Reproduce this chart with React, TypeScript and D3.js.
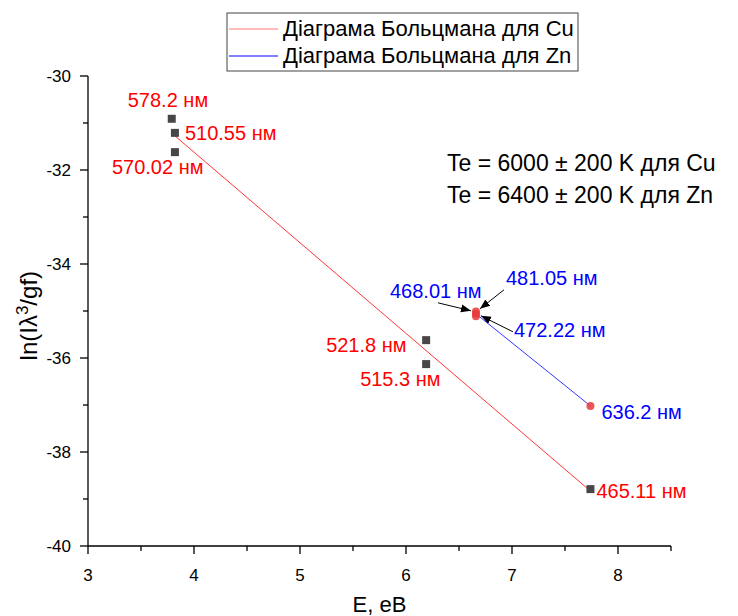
import React from "react";
import * as d3 from "d3";

// Cu lines (nm), upper level energy (eV), ln(I*lambda^3/gf)
const cuLines = ["578.2", "510.55", "570.02", "521.8", "515.3", "465.11"];
const cuEnergy = [3.79, 3.82, 3.82, 6.19, 6.19, 7.74];
const cuLn = [-30.91, -31.21, -31.62, -35.62, -36.13, -38.79];

// Zn lines
const znLines = ["468.01", "481.05", "472.22", "636.2"];
const znEnergy = [6.66, 6.66, 6.66, 7.74];
const znLn = [-35.01, -35.06, -35.11, -37.02];

const xTicks = [3, 4, 5, 6, 7, 8];
const yTicks = [-30, -32, -34, -36, -38, -40];
const legendItems = ["Діаграма Больцмана для Cu", "Діаграма Больцмана для Zn"];
const teLines = ["Te = 6000 ± 200 K для Cu", "Te = 6400 ± 200 K для Zn"];

// label placement (px from the point: left, baseline)
const cuLabelOffset = [[-44, -12], [10, 7], [-63, 22], [-100, 12], [-66, 22], [6, 9]];
const znLabelOffset = [[-86, -13], [30, -29], [38, 21], [11, 13]];
// arrows for the crowded Zn points: [tailX, tailY, tipX, tipY]
const znArrows = [[-38, -11, -5, -3], [28, -24, 4, -5], [37, 18, 5, 2], null];

const W = 738;
const H = 616;
const margin = { left: 88, top: 76, right: 67, bottom: 70 };
const font = "Arial, 'Liberation Sans', sans-serif";

function fit(xs: number[], ys: number[]) {
  const mx = d3.mean(xs)!;
  const my = d3.mean(ys)!;
  let sxy = 0;
  let sxx = 0;
  xs.forEach((x, i) => {
    sxy += (x - mx) * (ys[i] - my);
    sxx += (x - mx) * (x - mx);
  });
  const b = sxy / sxx;
  const a = my - b * mx;
  const [x0, x1] = d3.extent(xs) as [number, number];
  return [
    [x0, a + b * x0],
    [x1, a + b * x1],
  ];
}

export default function App() {
  const x = d3.scaleLinear().domain([3, 8.5]).range([margin.left, W - margin.right]);
  const y = d3.scaleLinear().domain([-40, -30]).range([H - margin.bottom, margin.top]);
  const line = d3
    .line<number[]>()
    .x((d) => x(d[0]))
    .y((d) => y(d[1]));

  const cuFit = fit(cuEnergy, cuLn);
  const znFit = fit(znEnergy, znLn);

  const xMinor = d3.range(3.5, 8.51, 1);
  const yMinor = d3.range(-39, -30, 2);
  const axisY = y(-40);
  const axisX = x(3);

  return (
    <svg
      width={W}
      height={H}
      style={{ position: "absolute", left: 0, top: 0, background: "#fff" }}
      fontFamily={font}
    >
      <defs>
        <marker id="arr" viewBox="0 0 10 10" refX="10" refY="5" markerWidth="10" markerHeight="10" orient="auto" markerUnits="userSpaceOnUse">
          <path d="M0,1 L10,5 L0,9 z" fill="#000" />
        </marker>
      </defs>

      {/* axes */}
      <g stroke="#000" strokeWidth={1.3}>
        <line x1={axisX} x2={x(8.5)} y1={axisY} y2={axisY} />
        <line x1={axisX} x2={axisX} y1={y(-30)} y2={axisY} />
        {xTicks.map((t) => (
          <line key={t} x1={x(t)} x2={x(t)} y1={axisY} y2={axisY + 8} />
        ))}
        {xMinor.map((t) => (
          <line key={t} x1={x(t)} x2={x(t)} y1={axisY} y2={axisY + 5} />
        ))}
        {yTicks.map((t) => (
          <line key={t} x1={axisX - 8} x2={axisX} y1={y(t)} y2={y(t)} />
        ))}
        {yMinor.map((t) => (
          <line key={t} x1={axisX - 5} x2={axisX} y1={y(t)} y2={y(t)} />
        ))}
      </g>
      <g fontSize={17} fill="#000">
        {xTicks.map((t) => (
          <text key={t} x={x(t)} y={axisY + 35} textAnchor="middle">
            {t}
          </text>
        ))}
        {yTicks.map((t) => (
          <text key={t} x={axisX - 17} y={y(t) + 6} textAnchor="end">
            {t}
          </text>
        ))}
      </g>
      <text x={x(5.75)} y={H - 4} textAnchor="middle" fontSize={22}>
        E, eB
      </text>
      <text
        transform={`translate(37,${y(-35.1)}) rotate(-90)`}
        textAnchor="middle"
        fontSize={24}
      >
        ln(Iλ<tspan dy={-9} fontSize={17}>3</tspan>
        <tspan dy={9}>/gf)</tspan>
      </text>

      {/* fitted lines */}
      <path d={line(cuFit)!} fill="none" stroke="#ff0000" strokeWidth={0.8} />
      <path d={line(znFit)!} fill="none" stroke="#0000ff" strokeWidth={0.8} />

      {/* points */}
      {cuEnergy.map((e, i) => (
        <rect key={i} x={x(e) - 4} y={y(cuLn[i]) - 4} width={8} height={8} fill="#474747" />
      ))}
      {znEnergy.map((e, i) => (
        <circle key={i} cx={x(e)} cy={y(znLn[i])} r={4} fill="#e8393b" fillOpacity={0.85} />
      ))}

      {/* labels */}
      <g fontSize={20}>
        {cuLines.map((l, i) => (
          <text key={l} x={x(cuEnergy[i]) + cuLabelOffset[i][0]} y={y(cuLn[i]) + cuLabelOffset[i][1]} fill="#ff0000">
            {l} нм
          </text>
        ))}
        {znLines.map((l, i) => (
          <text key={l} x={x(znEnergy[i]) + znLabelOffset[i][0]} y={y(znLn[i]) + znLabelOffset[i][1]} fill="#0000ff">
            {l} нм
          </text>
        ))}
      </g>
      {znArrows.map((a, i) =>
        a ? (
          <line
            key={i}
            x1={x(znEnergy[i]) + a[0]}
            y1={y(znLn[1]) + a[1]}
            x2={x(znEnergy[i]) + a[2]}
            y2={y(znLn[1]) + a[3]}
            stroke="#000"
            strokeWidth={1}
            markerEnd="url(#arr)"
          />
        ) : null
      )}

      {/* Te text */}
      <g fontSize={23} fill="#000">
        {teLines.map((t, i) => (
          <text key={t} x={447} y={171 + i * 32}>
            {t}
          </text>
        ))}
      </g>

      {/* legend */}
      <rect x={227} y={13} width={351} height={58} fill="#fff" stroke="#444" strokeWidth={1} />
      {legendItems.map((t, i) => (
        <g key={t}>
          <line x1={229} x2={278} y1={29 + i * 27} y2={29 + i * 27} stroke={i ? "#0000ff" : "#ff7777"} strokeWidth={1.2} />
          <text x={283} y={36 + i * 27} fontSize={22} fill="#000">
            {t}
          </text>
        </g>
      ))}
    </svg>
  );
}
